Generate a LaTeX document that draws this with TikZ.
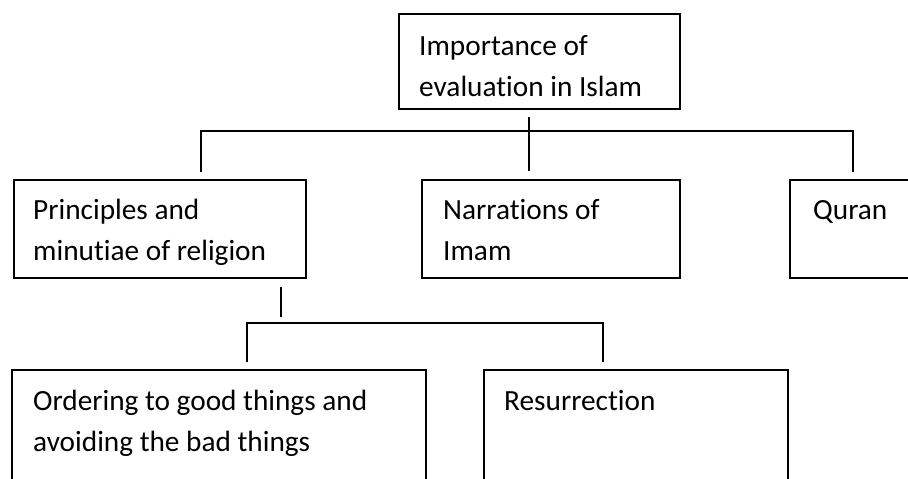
\documentclass[tikz,border=0pt]{standalone}
\usepackage{fontspec}
\setmainfont{Carlito}[Ligatures={NoCommon}]
\usetikzlibrary{calc}
\begin{document}
\begin{tikzpicture}[x=1pt,y=-1pt,
  box/.style={draw=black, line width=2pt, rectangle, inner sep=0pt, anchor=north west},
  txt/.style={inner sep=0pt, anchor=base west, font=\fontsize{29.3}{41.8}\selectfont},
  link/.style={draw=black, line width=2pt}]
\useasboundingbox (0,0) rectangle (908,479);
\clip (0,0) rectangle (908,479);
\fill[white] (0,0) rectangle (908,479);
% boxes
\node[box, minimum width=281pt, minimum height=95pt] (top) at (398,13) {};
\node[box, minimum width=292pt, minimum height=98pt] (prin) at (13,179) {};
\node[box, minimum width=258pt, minimum height=98pt] (narr) at (421,179) {};
\node[box, minimum width=130pt, minimum height=98pt] (quran) at (789,179) {};
\node[box, minimum width=414pt, minimum height=130pt] (order) at (11,369) {};
\node[box, minimum width=304pt, minimum height=130pt] (resur) at (483,369) {};
% texts
\node[txt] (ttop) at ($(top.north west)+(21,42)$) {\parbox[t]{270pt}{\raggedright Importance of\\evaluation in Islam}};
\node[txt] (tprin) at ($(prin.north west)+(20,40)$) {\parbox[t]{280pt}{\raggedright Principles and\\minutiae of religion}};
\node[txt] (tnarr) at ($(narr.north west)+(22,40)$) {\parbox[t]{240pt}{\raggedright Narrations of\\Imam}};
\node[txt] (tquran) at ($(quran.north west)+(24,40)$) {Quran};
\node[txt] (torder) at ($(order.north west)+(22,41)$) {\parbox[t]{400pt}{\raggedright Ordering to good things and\\avoiding the bad things}};
\node[txt] (tresur) at ($(resur.north west)+(21,41)$) {Resurrection};
% connector coordinates
\coordinate (a0) at (529,117);
\coordinate (a1) at (529,171);
\coordinate (bl) at (201,131);
\coordinate (br) at (853,131);
\coordinate (bl2) at (201,172);
\coordinate (br2) at (853,172);
\coordinate (c0) at (281,287);
\coordinate (c1) at (281,317);
\coordinate (dl) at (247,323);
\coordinate (dr) at (603,323);
\coordinate (dl2) at (247,362);
\coordinate (dr2) at (603,362);
% connectors
\draw[link] (a0) -- (a1);
\draw[link] (bl2) -- (bl) -- (br) -- (br2);
\draw[link] (c0) -- (c1);
\draw[link] (dl2) -- (dl) -- (dr) -- (dr2);
\end{tikzpicture}
\end{document}
